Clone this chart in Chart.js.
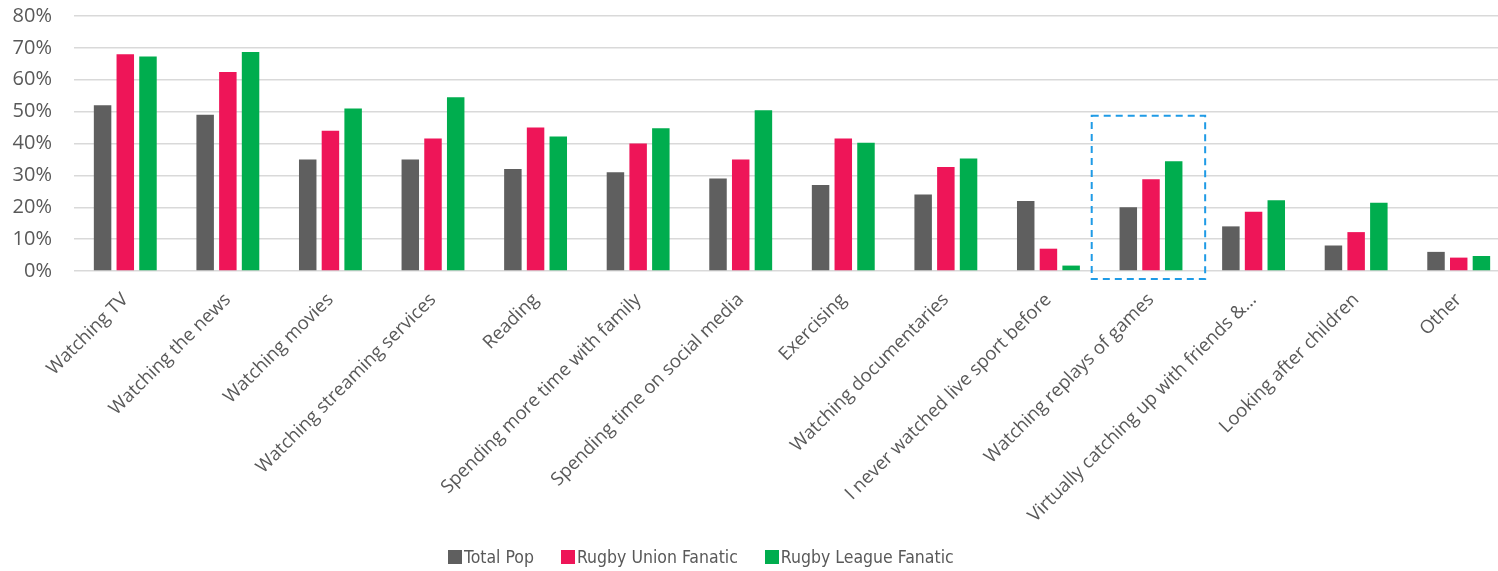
<!DOCTYPE html>
<html>
<head>
<meta charset="utf-8">
<script src="https://cdn.jsdelivr.net/npm/chart.js@4.4.1/dist/chart.umd.min.js"></script>
<style>
    html, body { margin: 0; padding: 0; background: #fff; overflow: hidden; }
    #wrap { position: relative; width: 1510px; height: 571px; }
    #legend {
        position: absolute; left: 448px; top: 547px;
        display: flex; align-items: center;
        font-family: "DejaVu Sans Condensed", sans-serif;
        font-size: 17.5px; color: #595959; white-space: nowrap;
    }
    #legend .item { display: flex; align-items: center; margin-right: 27px; }
    #legend .box { width: 14px; height: 14px; margin-right: 2px; }
</style>
</head>
<body>
<div id="wrap">
    <canvas id="myChart"></canvas>
    <div id="legend"></div>
</div>
<script>
const categories = [
    'Watching TV',
    'Watching the news',
    'Watching movies',
    'Watching streaming services',
    'Reading',
    'Spending more time with family',
    'Spending time on social media',
    'Exercising',
    'Watching documentaries',
    'I never watched live sport before',
    'Watching replays of games',
    'Virtually catching up with friends &...',
    'Looking after children',
    'Other'
];

const seriesNames = ['Total Pop', 'Rugby Union Fanatic', 'Rugby League Fanatic'];
const seriesColors = ['#5F5F5F', '#EE1558', '#00AD4E'];

const totalPop       = [52, 49, 35, 35, 32, 31, 29, 27, 24, 22, 20, 14, 8, 6];
const rugbyUnion     = [68, 62.4, 44, 41.6, 45, 40, 35, 41.6, 32.6, 7, 28.8, 18.6, 12.2, 4.2];
const rugbyLeague    = [67.3, 68.7, 51, 54.5, 42.2, 44.8, 50.4, 40.2, 35.3, 1.7, 34.4, 22.2, 21.4, 4.7];

const yTicks = [0, 10, 20, 30, 40, 50, 60, 70, 80];

// highlighted group (dashed box)
const highlightCategory = 'Watching replays of games';

const highlightBox = {
    id: 'highlightBox',
    afterDraw(chart) {
        const idx = categories.indexOf(highlightCategory);
        if (idx < 0) return;
        const xs = chart.scales.x, ys = chart.scales.y;
        const cw = xs.width / categories.length;
        const cx = xs.getPixelForValue(idx);
        const left = cx - 0.578 * cw;
        const right = cx + 0.528 * cw;
        const top = ys.getPixelForValue(48.7);
        const bottom = ys.getPixelForValue(-2.5);
        const ctx = chart.ctx;
        ctx.save();
        ctx.strokeStyle = '#1F9BE6';
        ctx.lineWidth = 2;
        ctx.setLineDash([7, 5]);
        ctx.strokeRect(left, top, right - left, bottom - top);
        ctx.restore();
    }
};

const datasets = [totalPop, rugbyUnion, rugbyLeague].map((data, i) => ({
    label: seriesNames[i],
    data: data,
    backgroundColor: seriesColors[i],
    borderWidth: 0,
    categoryPercentage: 0.664,
    barPercentage: 0.77
}));

const ctx = document.getElementById('myChart').getContext('2d');
new Chart(ctx, {
    type: 'bar',
    data: { labels: categories, datasets },
    options: {
        animation: false,
        responsive: true,
        maintainAspectRatio: false,
        layout: { padding: { top: 16, left: 0, right: 0, bottom: 0 } },
        plugins: {
            legend: { display: false },
            tooltip: { enabled: false }
        },
        scales: {
            x: {
                grid: { display: false, drawTicks: false },
                border: { display: false },
                ticks: {
                    color: '#595959',
                    font: { family: 'Open Sans', size: 18.5 },
                    maxRotation: 45,
                    minRotation: 45,
                    autoSkip: false,
                    padding: 18
                },
                afterFit(scale) { scale.height = 300; }
            },
            y: {
                min: 0,
                max: 80,
                afterBuildTicks(scale) { scale.ticks = yTicks.map(v => ({ value: v })); },
                grid: {
                    color: '#D9D9D9',
                    lineWidth: 1.5,
                    drawTicks: true,
                    tickLength: 22,
                    tickColor: 'rgba(0,0,0,0)'
                },
                border: { display: false },
                ticks: {
                    color: '#595959',
                    font: { family: 'Open Sans', size: 20 },
                    padding: 0,
                    callback: v => v + '%'
                },
                afterFit(scale) { scale.width = 74; }
            }
        }
    },
    plugins: [highlightBox]
});

const legendEl = document.getElementById('legend');
seriesNames.forEach((name, i) => {
    const item = document.createElement('div');
    item.className = 'item';
    const box = document.createElement('span');
    box.className = 'box';
    box.style.background = seriesColors[i];
    const txt = document.createElement('span');
    txt.textContent = name;
    item.appendChild(box);
    item.appendChild(txt);
    legendEl.appendChild(item);
});
</script>
</body>
</html>
